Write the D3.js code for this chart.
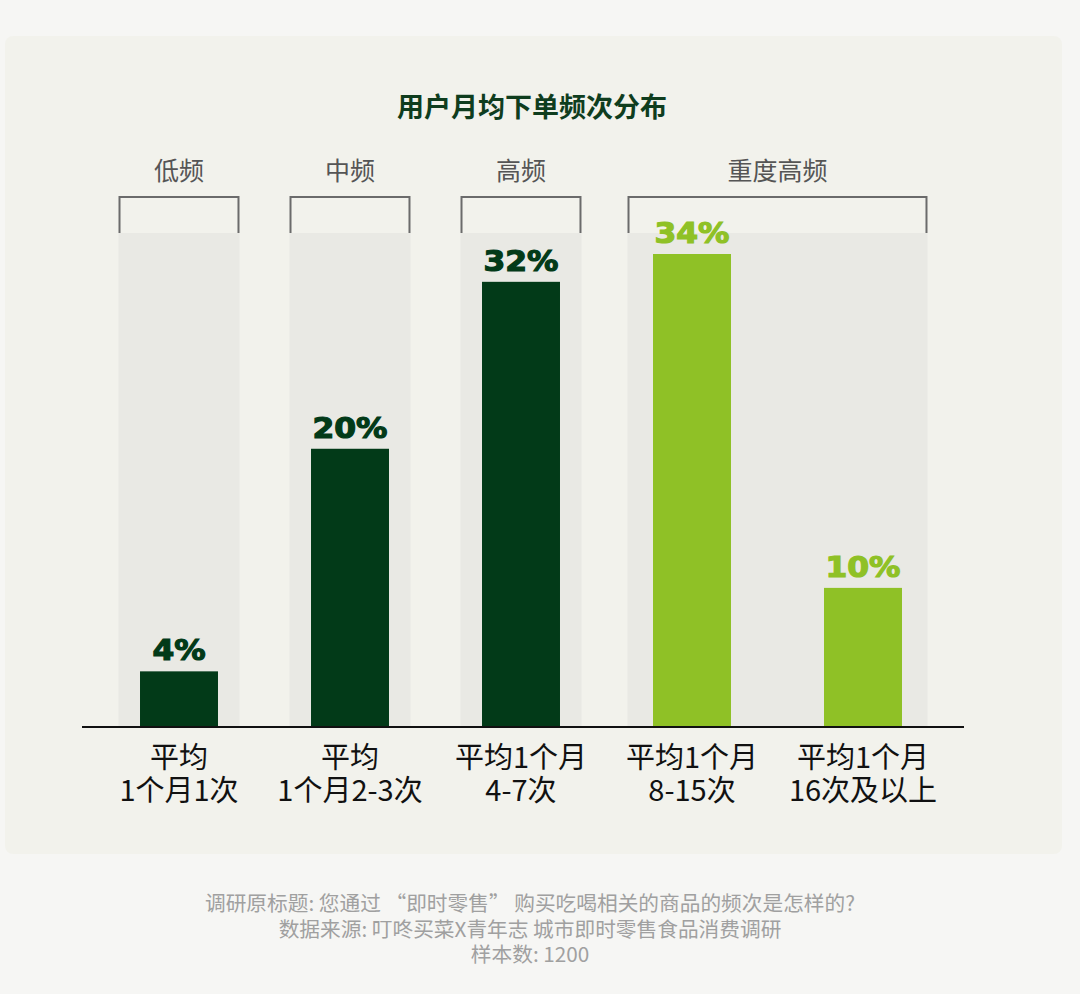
<!DOCTYPE html>
<html><head><meta charset="utf-8">
<script src="https://cdn.jsdelivr.net/npm/d3@7"></script>
<style>
html,body{margin:0;padding:0;background:#f6f6f4;}
svg{display:block;}
</style></head>
<body>
<svg id="chart" width="1080" height="994"></svg>
<script>
const title = "用户月均下单频次分布";
const categories = ["平均\n1个月1次","平均\n1个月2-3次","平均1个月\n4-7次","平均1个月\n8-15次","平均1个月\n16次及以上"];
const values = [4, 20, 32, 34, 10];
const groupOf = [0, 1, 2, 3, 3];
const groups = ["低频","中频","高频","重度高频"];
const footnotes = ["调研原标题: 您通过 “即时零售” 购买吃喝相关的商品的频次是怎样的?","数据来源: 叮咚买菜X青年志 城市即时零售食品消费调研","样本数: 1200"];

const darkGreen = "#023a18", lightGreen = "#8fc126";
const svg = d3.select("#chart");

svg.append("rect").attr("x",5).attr("y",36).attr("width",1057).attr("height",818)
  .attr("rx",8).attr("fill","#f2f2ec");

svg.append("text").attr("x",532).attr("y",117).attr("text-anchor","middle")
  .attr("font-family","Noto Sans CJK SC").attr("font-weight",700).attr("font-size",27)
  .attr("fill","#0f3d1e").text(title);

const x = d3.scaleBand().domain(d3.range(categories.length)).range([93.5,948.5]).paddingInner(0.544).paddingOuter(0.272);
const y = d3.scaleLinear().domain([0,34]).range([727,254]);
const bw = x.bandwidth();
const cx = i => x(i) + bw/2;

// group bands & brackets
const groupIdx = d3.range(groups.length).map(g => {
  const members = d3.range(categories.length).filter(i => groupOf[i] === g);
  const pad = members.length > 1 ? 25.5 : 21.5;
  return {g, x0: x(members[0]) - pad, x1: x(members[members.length-1]) + bw + pad};
});
const bracketTop = 197, bandTop = 233;
groupIdx.forEach(d => {
  svg.append("rect").attr("x",d.x0).attr("y",bandTop).attr("width",d.x1-d.x0).attr("height",y(0)-bandTop)
    .attr("fill","#e9e9e4");
  svg.append("path").attr("d",`M${d.x0+1},${bandTop}V${bracketTop}H${d.x1-1}V${bandTop}`)
    .attr("fill","none").attr("stroke","#6b6b6b").attr("stroke-width",2);
  svg.append("text").attr("x",(d.x0+d.x1)/2).attr("y",180).attr("text-anchor","middle")
    .attr("font-family","Noto Sans CJK SC").attr("font-size",25).attr("fill","#555")
    .text(groups[d.g]);
});

// bars
svg.selectAll("rect.bar").data(values).join("rect").attr("class","bar")
  .attr("x",(d,i)=>x(i)).attr("y",d=>y(d)).attr("width",bw).attr("height",d=>y(0)-y(d))
  .attr("fill",(d,i)=> groupOf[i] === 3 ? lightGreen : darkGreen);

// value labels
svg.selectAll("text.val").data(values).join("text").attr("class","val")
  .attr("transform",(d,i)=>`translate(${cx(i)},${y(d)-11}) scale(1.12,1)`)
  .attr("text-anchor","middle").attr("font-family","DejaVu Sans").attr("font-weight",700)
  .attr("font-size",28)
  .attr("fill",(d,i)=> groupOf[i] === 3 ? lightGreen : darkGreen)
  .attr("stroke",(d,i)=> groupOf[i] === 3 ? lightGreen : darkGreen).attr("stroke-width",1.2)
  .text(d => d + "%");

// axis line
svg.append("line").attr("x1",82).attr("x2",964).attr("y1",y(0)).attr("y2",y(0))
  .attr("stroke","#111").attr("stroke-width",2);

// category labels
categories.forEach((c,i) => {
  const t = svg.append("text").attr("text-anchor","middle")
    .attr("font-family","Noto Sans CJK SC").attr("font-size",29).attr("fill","#111");
  c.split("\n").forEach((line,j) => {
    t.append("tspan").attr("x",cx(i)).attr("y",768 + j*33).text(line);
  });
});

// footnotes
footnotes.forEach((f,j) => {
  svg.append("text").attr("x",530).attr("y",911 + j*25.5).attr("text-anchor","middle")
    .attr("font-family","Noto Sans CJK SC").attr("font-size",20.7).attr("fill","#a0a0a0").text(f);
});
</script>
</body></html>
